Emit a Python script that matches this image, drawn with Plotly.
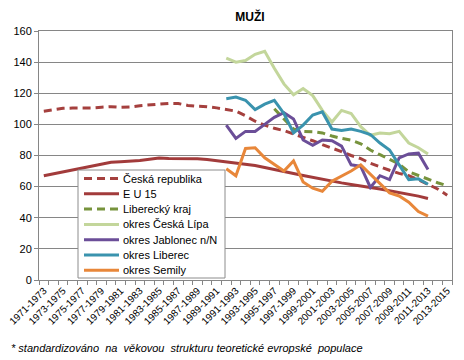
import plotly.graph_objects as go

periods = ["1971-1973", "1972-1974", "1973-1975", "1974-1976", "1975-1977", "1976-1978",
           "1977-1979", "1978-1980", "1979-1981", "1980-1982", "1981-1983", "1982-1984",
           "1983-1985", "1984-1986", "1985-1987", "1986-1988", "1987-1989", "1988-1990",
           "1989-1991", "1990-1992", "1991-1993", "1992-1994", "1993-1995", "1994-1996",
           "1995-1997", "1996-1998", "1997-1999", "1998-2000", "1999-2001", "2000-2002",
           "2001-2003", "2002-2004", "2003-2005", "2004-2006", "2005-2007", "2006-2008",
           "2007-2009", "2008-2010", "2009-2011", "2010-2012", "2011-2013", "2012-2014",
           "2013-2015"]

N = None
ceska_republika = [108.5, 109.5, 110.3, 110.5, 110.5, 110.6, 111.0, 111.4, 111.0, 111.2,
                   112.0, 112.5, 113.0, 113.5, 113.4, 112.2, 111.6, 111.4, 110.6, 109.6,
                   108.5, 105.5, 102.0, 99.5, 97.5, 96.0, 94.0, 91.5, 89.5, 87.0,
                   85.0, 82.5, 80.0, 78.0, 75.0, 72.5, 70.5, 68.5, 67.0, 64.5,
                   61.5, 58.5, 54.5]
eu15 = [67.0, 68.2, 69.5, 70.8, 72.0, 73.3, 74.6, 75.7, 76.0, 76.3,
        76.8, 77.6, 78.4, 78.0, 78.0, 78.1, 77.9, 77.5, 76.8, 76.0,
        75.3, 74.5, 73.6, 72.3, 70.9, 69.7, 68.4, 67.2, 65.9, 64.8,
        63.5, 62.4, 61.4, 60.6, 59.5, 58.5, 57.4, 56.4, 55.2, 53.9,
        52.4, N, N]
liberecky_kraj = [N] * 24 + [110.0, 103.5, 97.0, 95.5, 95.3, 94.5, 92.5, 91.0, 89.8, 87.5,
                             83.5, 80.5, 77.5, 74.5, 69.5, 67.0, 64.5, 62.5, 60.5]
ceska_lipa = [N] * 19 + [142.5, 140.0, 141.0, 145.0, 147.0, 136.0, 126.0, 119.0, 123.0, 118.5,
                         109.0, 101.5, 109.0, 107.0, 98.5, 93.0, 94.5, 94.0, 95.5, 88.0,
                         85.0, 81.0, N, N]
jablonec = [N] * 19 + [99.5, 91.0, 95.5, 95.5, 100.0, 104.5, 107.5, 103.5, 90.0, 86.5,
                       90.0, 89.5, 86.0, 74.0, 73.0, 59.5, 67.0, 64.5, 78.5, 81.0,
                       81.5, 71.0, N, N]
liberec = [N] * 19 + [116.5, 117.5, 115.5, 109.5, 113.0, 115.5, 107.0, 94.5, 99.5, 106.0,
                      108.0, 97.0, 96.0, 97.0, 95.5, 93.5, 88.0, 83.5, 74.0, 64.5,
                      65.0, 61.5, N, N]
semily = [N] * 19 + [71.5, 67.0, 84.5, 85.0, 78.5, 74.0, 70.0, 76.5, 63.0, 59.0,
                     57.0, 63.5, 66.5, 70.0, 74.0, 68.0, 61.5, 56.0, 54.0, 50.0,
                     44.0, 41.0, N, N]

series_names = ["Česká republika", "E U 15", "Liberecký kraj", "okres Česká Lípa",
                "okres Jablonec n/N", "okres Liberec", "okres Semily"]
series_values = [ceska_republika, eu15, liberecky_kraj, ceska_lipa, jablonec, liberec, semily]
series_colors = ["#A5403E", "#A23B3B", "#77933C", "#C3D69B", "#6B4E98", "#3A93AE", "#E8873A"]
series_dash = ["8px,5px", "solid", "8px,5px", "solid", "solid", "solid", "solid"]

W, H = 464, 360
L, R, T, B = 39, 12, 31, 80
pw, ph = W - L - R, H - T - B


def px_x(p):
    return (p - L) / pw


def px_y(p):
    return (H - B - p) / ph


FONT = "Liberation Sans, Arial, sans-serif"
x_idx = list(range(len(periods)))

fig = go.Figure()
for name, vals, col, dash in zip(series_names, series_values, series_colors, series_dash):
    fig.add_trace(go.Scatter(x=x_idx, y=vals, name=name, mode="lines",
                             line=dict(color=col, width=3, dash=dash),
                             connectgaps=False, showlegend=False))

# custom legend (compact like the original)
shapes = [dict(type="rect", xref="paper", yref="paper",
               x0=px_x(78), x1=px_x(225), y0=px_y(278), y1=px_y(170),
               line=dict(color="#8c8c8c", width=1), fillcolor="white", layer="above")]
annotations = []
for k, (name, col, dash) in enumerate(zip(series_names, series_colors, series_dash)):
    yc = 178.5 + k * 15.3
    shapes.append(dict(type="line", xref="paper", yref="paper",
                       x0=px_x(84), x1=px_x(119), y0=px_y(yc), y1=px_y(yc),
                       line=dict(color=col, width=3, dash=dash), layer="above"))
    annotations.append(dict(text=name, xref="paper", yref="paper", x=px_x(121), y=px_y(yc),
                            xanchor="left", yanchor="middle", showarrow=False,
                            font=dict(family=FONT, size=11, color="#000000")))

annotations.append(dict(text="<i>* standardizováno  na  věkovou  strukturu teoretické evropské  populace</i>",
                        xref="paper", yref="paper", x=px_x(9), y=px_y(348),
                        xanchor="left", yanchor="middle", showarrow=False,
                        font=dict(family=FONT, size=11, color="#000000")))

fig.update_layout(
    width=W, height=H,
    margin=dict(l=L, r=R, t=T, b=B, pad=0, autoexpand=False),
    paper_bgcolor="white", plot_bgcolor="white",
    title=dict(text="<b>MUŽI</b>", x=250 / W, xanchor="center", y=1 - 17 / H, yanchor="middle",
               font=dict(family=FONT, size=12, color="#000000")),
    font=dict(family=FONT, size=11, color="#000000"),
    shapes=shapes, annotations=annotations,
    showlegend=False,
)
fig.update_xaxes(range=[-0.5, len(periods) - 0.5], tickmode="array", automargin=False,
                 tickvals=x_idx[::2], ticktext=periods[::2], tickangle=-45,
                 ticks="", showgrid=False, zeroline=False,
                 showline=True, linecolor="#868686", linewidth=1, mirror=True,
                 tickfont=dict(family=FONT, size=10, color="#000000"),
                 minor=dict(tickmode="linear", tick0=-0.5, dtick=1, ticks="outside",
                            ticklen=4, tickcolor="#868686", showgrid=False))
fig.update_yaxes(range=[0, 160], dtick=20, tick0=0, showgrid=True, gridcolor="#868686",
                 gridwidth=1, zeroline=False, showline=True, linecolor="#868686",
                 linewidth=1, mirror=True, ticks="outside", ticklen=4, tickcolor="#868686",
                 automargin=False,
                 tickfont=dict(family=FONT, size=11, color="#000000"))

fig.write_html("out.html", config={"displayModeBar": False},
               post_script="document.body.style.margin='0';document.body.style.overflow='hidden';")
